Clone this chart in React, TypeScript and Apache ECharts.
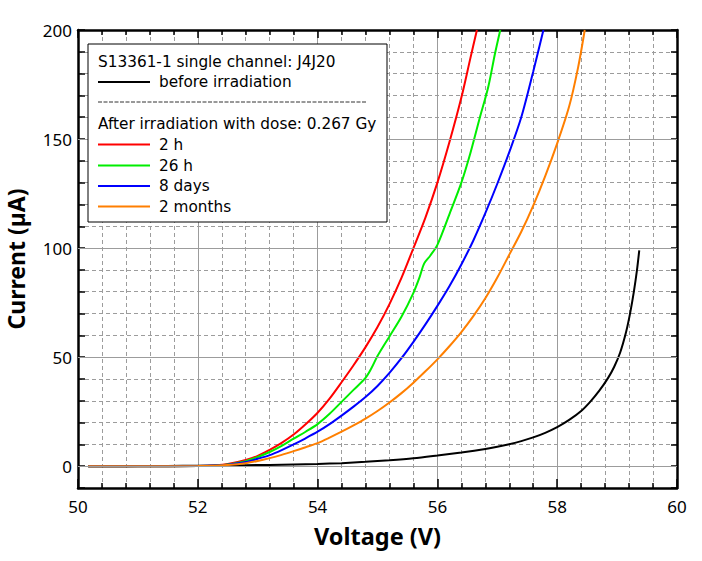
import React, { useEffect, useRef } from "react";
import * as echarts from "echarts";

// Current (µA) vs Voltage (V)
const beforeIrradiation: number[][] = [
  [50.17, 0], [50.6, 0], [51.0, 0.05], [51.5, 0.1], [52.0, 0.2], [52.4, 0.3], [52.8, 0.45],
  [53.2, 0.6], [53.6, 0.8], [54.0, 1.0], [54.4, 1.4], [54.8, 2.0], [55.2, 2.7], [55.6, 3.6],
  [56.0, 4.9], [56.4, 6.3], [56.8, 7.9], [57.0, 8.9], [57.2, 10.1], [57.4, 11.5], [57.6, 13.2],
  [57.8, 15.3], [58.0, 17.9], [58.2, 21.2], [58.4, 25.3], [58.55, 29.5], [58.7, 34.5],
  [58.85, 40.5], [58.95, 45.5], [59.05, 52], [59.15, 61.5], [59.22, 70.5], [59.28, 80],
  [59.33, 89.5], [59.37, 99],
];
const after2h: number[][] = [
  [50.17, 0], [51, 0], [52, 0.1], [52.3, 0.4], [52.5, 1.0], [52.8, 2.9], [53.0, 4.7], [53.2, 7.5],
  [53.4, 10.7], [53.6, 14.5], [53.8, 19.2], [54.0, 24.5], [54.2, 31], [54.4, 38.5], [54.6, 46.3],
  [54.8, 54.6], [55.0, 63.8], [55.2, 74.3], [55.4, 86.3], [55.6, 100], [55.8, 114], [56.0, 130],
  [56.2, 148.5], [56.4, 169], [56.55, 187], [56.66, 200],
];
const after26h: number[][] = [
  [50.17, 0], [51, 0], [52, 0.1], [52.3, 0.3], [52.5, 0.8], [52.8, 2.3], [53.0, 4.2], [53.2, 6.5],
  [53.4, 9.3], [53.6, 12.6], [53.8, 15.8], [54.0, 19.3], [54.2, 24], [54.4, 29.5], [54.6, 35],
  [54.8, 40.5], [54.9, 45], [55.0, 50.5], [55.2, 59.5], [55.4, 68.5], [55.6, 79.5], [55.7, 86.5],
  [55.78, 93], [55.88, 96.5], [56.0, 101.5], [56.2, 115.5], [56.4, 130], [56.55, 143.5],
  [56.7, 159], [56.85, 174], [56.96, 189], [57.05, 200],
];
const after8days: number[][] = [
  [50.17, 0], [51, 0], [52, 0.1], [52.3, 0.3], [52.5, 0.7], [52.8, 1.9], [53.0, 3.4], [53.2, 5.1],
  [53.4, 7.4], [53.6, 10.0], [53.8, 12.8], [54.0, 15.8], [54.2, 19.3], [54.4, 23.2], [54.6, 27.3],
  [54.8, 31.7], [55.0, 36.8], [55.2, 42.8], [55.4, 49.5], [55.6, 57], [55.8, 65], [56.0, 73.5],
  [56.2, 82.5], [56.4, 92.5], [56.6, 103.5], [56.8, 116], [57.0, 129.5], [57.2, 144], [57.4, 160],
  [57.6, 181], [57.77, 200],
];
const after2months: number[][] = [
  [50.17, 0], [51, 0], [52, 0.05], [52.3, 0.2], [52.5, 0.5], [52.8, 1.4], [53.0, 2.4], [53.2, 3.7],
  [53.4, 5.2], [53.6, 6.9], [53.8, 8.7], [54.0, 10.6], [54.2, 13.1], [54.4, 15.8], [54.6, 18.7],
  [54.8, 21.8], [55.0, 25.3], [55.2, 29.2], [55.4, 33.5], [55.6, 38.3], [55.8, 43.5], [56.0, 49],
  [56.2, 55], [56.4, 61.5], [56.6, 68.8], [56.8, 77], [57.0, 86.5], [57.2, 97], [57.4, 107.5],
  [57.6, 119.5], [57.8, 133], [58.0, 148], [58.2, 165], [58.35, 183], [58.46, 200],
];

const seriesNames = ["before irradiation", "2 h", "26 h", "8 days", "2 months"];
const seriesColors = ["#000000", "#ff0000", "#00ee00", "#0000ff", "#ff7f00"];
const seriesData = [beforeIrradiation, after2h, after26h, after8days, after2months];

const legendTitle = "S13361-1 single channel: J4J20";
const legendSubtitle = "After irradiation with dose: 0.267 Gy";

const yMajorLines = [0, 50, 100, 150];

const FONT = "Noto Sans";
const LEGEND_FONT = "DejaVu Sans";
const GRID = "#9c9c9c";

export default function App() {
  const ref = useRef<HTMLDivElement>(null);
  useEffect(() => {
    document.body.style.margin = "0";
    if (!ref.current) return;
    const chart = echarts.init(ref.current, null, { renderer: "svg" });

    const axisLine = { show: true, onZero: false, lineStyle: { color: "#000", width: 2.5 } };

    const lineSeries = seriesData.map((d, i) => ({
      name: seriesNames[i],
      type: "line",
      data: d,
      showSymbol: false,
      smooth: 0.3,
      z: 3,
      lineStyle: { color: seriesColors[i], width: 2 },
      itemStyle: { color: seriesColors[i] },
    }));

    const legendX = 88;
    const legendY = 44;
    const rowY = [61.5, 82, 102, 124, 144.5, 165.5, 186, 206.5];
    const entryRows = [1, 4, 5, 6, 7];
    const fs = `15.3px "${LEGEND_FONT}"`;
    const txt = (text: string, x: number, y: number) => ({
      type: "text",
      z: 101,
      x,
      y,
      style: { text, font: fs, fill: "#000", verticalAlign: "middle", lineHeight: 17 },
    });
    const legendChildren: any[] = [
      {
        type: "rect",
        z: 100,
        shape: { x: legendX, y: legendY, width: 299, height: 178 },
        style: { fill: "#ffffff", stroke: "#000", lineWidth: 1 },
      },
      txt(legendTitle, 98, rowY[0]),
      {
        type: "line",
        z: 101,
        shape: { x1: 98, y1: rowY[2], x2: 367, y2: rowY[2] },
        style: { stroke: "#333", lineWidth: 1, lineDash: [4, 1.5] },
      },
      txt(legendSubtitle, 98, rowY[3]),
    ];
    seriesNames.forEach((name, i) => {
      const y = rowY[entryRows[i]];
      legendChildren.push({
        type: "line",
        z: 101,
        shape: { x1: 98, y1: y, x2: 150, y2: y },
        style: { stroke: seriesColors[i], lineWidth: 2 },
      });
      legendChildren.push(txt(name, 159, y));
    });

    chart.setOption({
      animation: false,
      textStyle: { fontFamily: FONT },
      grid: { left: 78, right: 25, top: 30, bottom: 73, containLabel: false, outerBoundsMode: "none" },
      xAxis: [
        {
          type: "value",
          axisLine,
          position: "bottom",
          min: 50,
          max: 60,
          interval: 2,
          name: "Voltage (V)",
          nameLocation: "middle",
          nameGap: 36,
          nameTextStyle: { fontSize: 23.5, fontWeight: "bold", color: "#000", fontFamily: FONT },
          axisTick: { show: true, inside: true, length: 9, lineStyle: { color: "#000", width: 1.5 } },
          minorTick: { show: true, splitNumber: 5, length: 5, lineStyle: { color: "#000", width: 1.5 } },
          axisLabel: { fontSize: 17, color: "#000", margin: 10, fontFamily: FONT },
          splitLine: { show: true, lineStyle: { color: GRID, width: 1, type: "solid" } },
          minorSplitLine: { show: true, lineStyle: { color: GRID, width: 1, type: [4, 3] } },
        },
        {
          type: "value",
          axisLine,
          position: "top",
          min: 50,
          max: 60,
          interval: 2,
          axisTick: { show: true, inside: true, length: 8, lineStyle: { color: "#000", width: 1.5 } },
          minorTick: { show: true, splitNumber: 5, length: 5, lineStyle: { color: "#000", width: 1.5 } },
          axisLabel: { show: false },
          splitLine: { show: false },
        },
      ],
      yAxis: [
        {
          type: "value",
          axisLine,
          position: "left",
          min: -10,
          max: 200,
          interval: 10,
          name: "Current (µA)",
          nameLocation: "middle",
          nameGap: 51,
          nameTextStyle: { fontSize: 23, fontWeight: "bold", color: "#000", fontFamily: FONT },
          axisTick: { show: true, inside: true, length: 7, lineStyle: { color: "#000", width: 1.5 } },
          axisLabel: {
            fontSize: 17,
            color: "#000",
            margin: 6,
            fontFamily: FONT,
            formatter: (v: number) => (v >= 0 && Math.abs(v % 50) < 1e-6 ? String(Math.round(v)) : ""),
          },
          splitLine: { show: true, lineStyle: { color: GRID, width: 1, type: [4, 3] } },
        },
        {
          type: "value",
          axisLine,
          position: "right",
          min: -10,
          max: 200,
          interval: 10,
          axisTick: { show: true, inside: true, length: 6, lineStyle: { color: "#000", width: 1.5 } },
          axisLabel: { show: false },
          splitLine: { show: false },
        },
      ],
      series: [
        {
          type: "line",
          data: [],
          z: 1,
          silent: true,
          markLine: {
            silent: true,
            symbol: ["none", "none"],
            label: { show: false },
            lineStyle: { color: GRID, width: 1, type: "solid" },
            data: yMajorLines.map((v) => ({ yAxis: v })),
          },
        },
        ...lineSeries,
      ],
      graphic: [{ type: "group", z: 100, children: legendChildren }],
    });

    return () => chart.dispose();
  }, []);
  return <div ref={ref} style={{ width: 702, height: 561 }} />;
}
